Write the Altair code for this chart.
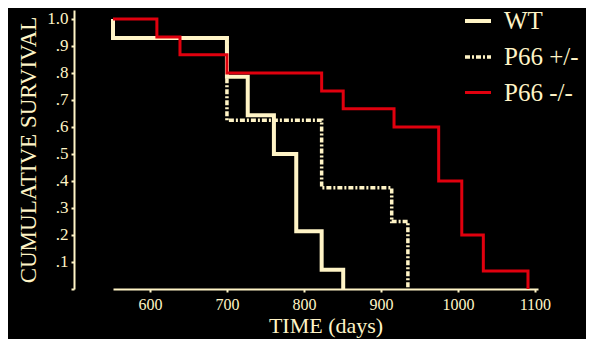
import altair as alt
import pandas as pd

# --- data ---
wt_days = [552, 552, 700, 727, 761, 790, 823, 851]
wt_surv = [1.0, 0.929, 0.786, 0.643, 0.5, 0.214, 0.071, 0.0]

het_days = [552, 700, 823, 914, 935]
het_surv = [0.929, 0.625, 0.375, 0.25, 0.0]

ko_days = [552, 609, 639, 700, 823, 851, 917, 975, 1005, 1033, 1091]
ko_surv = [1.0, 0.933, 0.867, 0.8, 0.733, 0.667, 0.6, 0.4, 0.2, 0.067, 0.0]

groups = ["WT", "P66 +/-", "P66  -/-"]
x_ticks = [600, 700, 800, 900, 1000, 1100]
y_ticks = [0, 0.1, 0.2, 0.3, 0.4, 0.5, 0.6, 0.7, 0.8, 0.9, 1.0]

rows = []
for g, ds, ss in [(groups[0], wt_days, wt_surv), (groups[1], het_days, het_surv), (groups[2], ko_days, ko_surv)]:
    for i, (d, s) in enumerate(zip(ds, ss)):
        rows.append({"group": g, "day": d, "surv": s, "i": i})
df = pd.DataFrame(rows)

CREAM = "#FFF4C6"
RED = "#E0000E"
FONT = "Liberation Serif"

legend_cfg = dict(title=None, orient="none", legendX=350, legendY=-4,
                  labelColor=CREAM, labelFont=FONT, labelFontSize=25,
                  symbolType="stroke", symbolSize=676, symbolStrokeWidth=4,
                  rowPadding=8, labelOffset=11, padding=0)

chart = alt.Chart(df).mark_line(interpolate="step-after", strokeCap="butt", strokeJoin="miter").encode(
    x=alt.X("day:Q",
            scale=alt.Scale(domain=[552, 1104], nice=False, zero=False),
            axis=alt.Axis(values=x_ticks, format="d", title="TIME (days)", grid=False,
                          domainColor=CREAM, domainWidth=2, tickColor=CREAM, tickWidth=2, tickSize=3,
                          labelColor=CREAM, labelFont=FONT, labelFontSize=16, labelPadding=4,
                          titleColor=CREAM, titleFont=FONT, titleFontSize=22, titleFontWeight="normal",
                          titlePadding=3)),
    y=alt.Y("surv:Q",
            scale=alt.Scale(domain=[0, 1.033], nice=False),
            axis=alt.Axis(values=y_ticks, title="CUMULATIVE SURVIVAL", grid=False, offset=39,
                          labelExpr="datum.value == 0 ? '' : (datum.value >= 1 ? '1.0' : replace(format(datum.value, '.1f'), '0.', '.'))",
                          domainColor=CREAM, domainWidth=2, tickColor=CREAM, tickWidth=2, tickSize=3,
                          labelColor=CREAM, labelFont=FONT, labelFontSize=17, labelPadding=3,
                          titleColor=CREAM, titleFont=FONT, titleFontSize=23, titleFontWeight="normal",
                          titlePadding=6)),
    color=alt.Color("group:N", scale=alt.Scale(domain=groups, range=[CREAM, CREAM, RED]),
                    legend=alt.Legend(**legend_cfg)),
    strokeDash=alt.StrokeDash("group:N", scale=alt.Scale(domain=groups, range=[[1, 0], [5, 2, 2, 2], [1, 0]]),
                              legend=alt.Legend(**legend_cfg)),
    strokeWidth=alt.StrokeWidth("group:N", scale=alt.Scale(domain=groups, range=[4, 3, 3]), legend=None),
    order="i:Q",
).properties(
    width=425, height=279,
    autosize=alt.AutoSizeParams(type="none"),
    padding={"left": 105, "top": 2, "right": 48, "bottom": 50},
    background="black",
).configure_view(stroke=None)

chart.save("out.html", embed_options={"renderer": "svg", "actions": False})
